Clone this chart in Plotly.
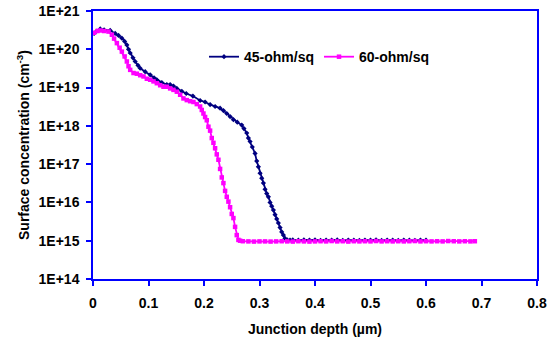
import plotly.graph_objects as go

# 45-ohm/sq profile (depth in um, concentration in cm^-3)
depth_45 = [0.002, 0.007, 0.013, 0.020, 0.031, 0.040, 0.046, 0.052, 0.057, 0.061, 0.064, 0.067,
            0.072, 0.076, 0.081, 0.085, 0.094, 0.103, 0.110, 0.115, 0.124, 0.133, 0.139, 0.145,
            0.151, 0.160, 0.168, 0.180, 0.193, 0.202, 0.211, 0.220, 0.229, 0.235, 0.241, 0.247,
            0.253, 0.260, 0.268, 0.272, 0.277, 0.280, 0.283, 0.287, 0.292, 0.295, 0.298, 0.301,
            0.304, 0.307, 0.310, 0.313, 0.316, 0.319, 0.322, 0.325, 0.328, 0.331, 0.334, 0.337,
            0.340, 0.343, 0.346, 0.350, 0.355, 0.36, 0.37, 0.38, 0.39, 0.40, 0.41, 0.42, 0.43,
            0.44, 0.45, 0.46, 0.47, 0.48, 0.49, 0.50, 0.51, 0.52, 0.53, 0.54, 0.55, 0.56, 0.57,
            0.58, 0.59, 0.60]
conc_45 = [2.6e20, 3.0e20, 3.4e20, 3.2e20, 3.1e20, 2.6e20, 2.3e20, 1.95e20, 1.6e20, 1.3e20,
           1.0e20, 8.0e19, 6.0e19, 4.8e19, 3.8e19, 3.2e19, 2.6e19, 2.15e19, 1.8e19, 1.6e19,
           1.35e19, 1.2e19, 1.2e19, 1.1e19, 9.5e18, 8.0e18, 7.0e18, 6.0e18, 4.6e18, 4.2e18,
           3.6e18, 3.2e18, 2.9e18, 2.5e18, 2.1e18, 1.75e18, 1.45e18, 1.25e18, 1.05e18, 8.5e17,
           6.5e17, 4.8e17, 3.9e17, 2.8e17, 1.9e17, 1.2e17, 8.5e16, 5.8e16, 4.3e16, 3.2e16,
           2.2e16, 1.7e16, 1.4e16, 1.0e16, 8.0e15, 6.3e15, 4.8e15, 3.7e15, 2.9e15, 2.2e15,
           1.7e15, 1.4e15, 1.15e15, 1.05e15, 1.04e15, 1.05e15, 1.03e15, 1.05e15, 1.04e15,
           1.05e15, 1.02e15, 1.04e15, 1.03e15, 1.05e15, 1.02e15, 1.04e15, 1.03e15, 1.02e15,
           1.04e15, 1.03e15, 1.05e15, 1.02e15, 1.04e15, 1.03e15, 1.02e15, 1.04e15, 1.03e15,
           1.02e15, 1.04e15, 1.03e15]

# 60-ohm/sq profile
depth_60 = [0.002, 0.008, 0.013, 0.020, 0.028, 0.034, 0.038, 0.043, 0.048, 0.052, 0.057, 0.061,
            0.064, 0.067, 0.073, 0.079, 0.085, 0.091, 0.097, 0.103, 0.109, 0.115, 0.121, 0.127,
            0.133, 0.139, 0.145, 0.151, 0.157, 0.163, 0.169, 0.175, 0.181, 0.187, 0.193, 0.196,
            0.199, 0.202, 0.205, 0.208, 0.211, 0.214, 0.217, 0.220, 0.223, 0.226, 0.229, 0.232,
            0.235, 0.238, 0.241, 0.244, 0.247, 0.250, 0.253, 0.256, 0.259, 0.262, 0.265, 0.27,
            0.28, 0.29, 0.30, 0.31, 0.32, 0.33, 0.34, 0.35, 0.36, 0.37, 0.38, 0.39, 0.40, 0.41,
            0.42, 0.43, 0.44, 0.45, 0.46, 0.47, 0.48, 0.49, 0.50, 0.51, 0.52, 0.53, 0.54, 0.55,
            0.56, 0.57, 0.58, 0.59, 0.60, 0.61, 0.62, 0.63, 0.64, 0.65, 0.66, 0.67, 0.68, 0.688]
conc_60 = [2.7e20, 3.0e20, 3.1e20, 3.0e20, 2.9e20, 2.4e20, 1.9e20, 1.45e20, 1.1e20, 8.7e19,
           6.5e19, 4.8e19, 3.6e19, 2.9e19, 2.4e19, 2.3e19, 2.1e19, 1.95e19, 1.7e19, 1.6e19,
           1.45e19, 1.3e19, 1.15e19, 1.05e19, 1.05e19, 9.5e18, 8.7e18, 7.8e18, 6.5e18, 5.2e18,
           4.7e18, 4.4e18, 4.2e18, 3.7e18, 3.2e18, 2.6e18, 2.1e18, 1.7e18, 1.4e18, 9.5e17,
           7.5e17, 4.8e17, 3.6e17, 2.6e17, 1.8e17, 1.3e17, 7.5e16, 4.5e16, 3.2e16, 2.0e16,
           1.4e16, 1.05e16, 7.5e15, 5.0e15, 3.9e15, 2.3e15, 1.4e15, 1.05e15, 1.0e15, 9.7e14,
           9.6e14, 9.5e14, 9.6e14, 9.6e14, 9.5e14, 9.6e14, 9.7e14, 9.6e14, 9.5e14, 9.7e14,
           9.6e14, 9.5e14, 9.6e14, 9.7e14, 9.6e14, 9.8e14, 9.6e14, 9.7e14, 9.5e14, 9.7e14,
           9.6e14, 9.7e14, 9.6e14, 9.8e14, 9.6e14, 9.7e14, 9.6e14, 9.7e14, 9.6e14, 9.7e14,
           9.8e14, 9.6e14, 9.7e14, 9.6e14, 9.7e14, 9.6e14, 9.8e14, 9.7e14, 9.6e14, 9.7e14,
           9.6e14, 9.7e14]

x_ticks = [0, 0.1, 0.2, 0.3, 0.4, 0.5, 0.6, 0.7, 0.8]
x_ticktext = ["0", "0.1", "0.2", "0.3", "0.4", "0.5", "0.6", "0.7", "0.8"]
y_ticks = [1e14, 1e15, 1e16, 1e17, 1e18, 1e19, 1e20, 1e21]
y_ticktext = ["1E+14", "1E+15", "1E+16", "1E+17", "1E+18", "1E+19", "1E+20", "1E+21"]

FONT = "Liberation Sans, Arial, sans-serif"
AXIS_BLUE = "#0000FF"
FS = 14

fig = go.Figure()
fig.add_trace(go.Scatter(
    x=depth_45, y=conc_45, mode="lines+markers", name="45-ohm/sq",
    line=dict(color="#000080", width=1.8),
    marker=dict(symbol="diamond", size=4, color="#000080"),
))
fig.add_trace(go.Scatter(
    x=depth_60, y=conc_60, mode="lines+markers", name="60-ohm/sq",
    line=dict(color="#FF00FF", width=1.8),
    marker=dict(symbol="square", size=4.5, color="#FF00FF"),
))

bold = dict(family=FONT, size=FS, color="black", weight="bold")

fig.update_layout(
    width=560, height=340,
    margin=dict(l=93, r=23, t=11, b=61, autoexpand=False),
    paper_bgcolor="white", plot_bgcolor="white",
    font=bold,
    showlegend=True,
    legend=dict(
        orientation="h", x=0.25, y=0.828, xanchor="left", yanchor="middle",
        bgcolor="rgba(0,0,0,0)", font=bold, tracegroupgap=0,
    ),
    xaxis=dict(
        range=[0, 0.8], tickvals=x_ticks, ticktext=x_ticktext,
        showgrid=False, zeroline=False, automargin=False,
        showline=True, linecolor=AXIS_BLUE, linewidth=1.5, mirror=True,
        ticks="outside", ticklen=5, tickcolor=AXIS_BLUE, tickwidth=1.5,
        ticklabelstandoff=5,
        tickfont=bold,
        title=dict(text="Junction depth (µm)", standoff=15, font=bold),
    ),
    yaxis=dict(
        type="log", range=[14, 21], tickvals=y_ticks, ticktext=y_ticktext,
        showgrid=False, zeroline=False, automargin=False,
        showline=True, linecolor=AXIS_BLUE, linewidth=1.5, mirror=True,
        ticks="outside", ticklen=5, tickcolor=AXIS_BLUE, tickwidth=1.5,
        ticklabelstandoff=4,
        tickfont=bold,
        title=dict(text="Surface concentration (cm<sup>-3</sup>)", standoff=6, font=bold),
    ),
)

fig.write_html("out.html")
